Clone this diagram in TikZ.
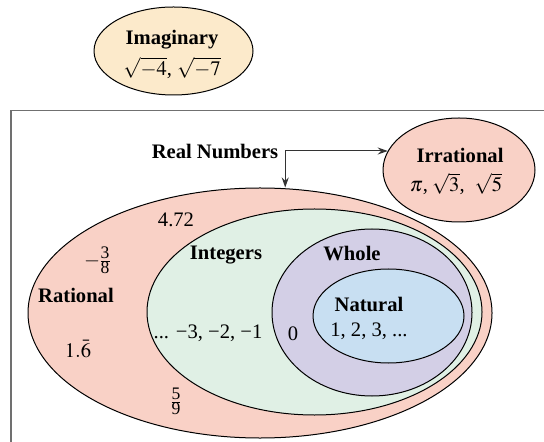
\documentclass[tikz,border=0pt]{standalone}
\usepackage{amsmath}
\usepackage{mathptmx}
\usepackage{fontspec}
\setmainfont{Liberation Serif}
\usetikzlibrary{arrows.meta, positioning, shapes.geometric}

\definecolor{rosa}{RGB}{249,209,198}
\definecolor{verde}{RGB}{224,240,229}
\definecolor{lilla}{RGB}{211,207,230}
\definecolor{azzurro}{RGB}{200,223,242}
\definecolor{giallo}{RGB}{252,234,203}
\definecolor{cornice}{RGB}{112,112,112}

% frazione con cifre piene e barra sottile, come nel disegno
\newcommand{\frazione}[2]{\genfrac{}{}{0.2pt}{1}{\mbox{\fontsize{8.8}{10}\selectfont #1}}{\mbox{\fontsize{8.8}{10}\selectfont #2}}}

\begin{document}
\begin{tikzpicture}[x=0.5pt, y=-0.5pt,
    insieme/.style={ellipse, draw=black, line width=0.5pt, inner sep=0pt},
    titolo/.style={font=\fontsize{10.3}{12}\selectfont\bfseries, inner sep=1pt},
    valori/.style={font=\fontsize{10.3}{12}\selectfont, inner sep=1pt},
    freccia/.style={-{Stealth[length=5pt, width=3.5pt]}, line width=0.5pt, draw=black!80}]

        \useasboundingbox (0,0) rectangle (544,442);

        % ==========================================
        % INSIEMI DEI REALI: ellissi annidate
        % ==========================================

        \node[insieme, fill=rosa, minimum width=232pt, minimum height=125pt] (rational) at (260,313) {};
        \node[insieme, fill=verde, minimum width=167.5pt, minimum height=103pt] (integers) at (314.5,312) {};
        \node[insieme, fill=lilla, minimum width=100pt, minimum height=83.5pt] (whole) at (372,312.5) {};
        \node[insieme, fill=azzurro, minimum width=75.5pt, minimum height=47pt] (natural) at (388.5,316) {};

        % Irrazionali e immaginari
        \node[insieme, fill=rosa, minimum width=76pt, minimum height=52pt] (irrational) at (459,170) {};
        \node[insieme, fill=giallo, minimum width=79.5pt, minimum height=44pt] (imaginary) at (173.5,51) {};

        % Cornice dei reali (tagliata dal bordo)
        \draw[cornice, line width=0.75pt] (11,442) -- (11,110.5) -- (544,110.5);

        % ==========================================
        % ETICHETTE
        % ==========================================

        \node[titolo] (imag-lab) at (172,40) {Imaginary};
        \node[valori] (imag-val) at (172,68) {$\sqrt{-4}$, $\sqrt{-7}$};

        \node[titolo] (irr-lab) at (460,155) {Irrational};
        \node[valori] (irr-val) at (456,184) {$\pi$,\hspace{2pt}$\sqrt{3}$,\hspace{5pt}$\sqrt{5}$};

        \node[titolo] (rat-lab) at (76,295) {Rational};
        \node[valori] (rat-a) at (176,220) {4.72};
        \node[valori] (rat-b) at (98,260) {$-\mkern-1.5mu\frazione{3}{8}$};
        \node[valori] (rat-c) at (78,349) {$1.\bar{6}$};
        \node[valori] (rat-d) at (176,401) {$\frazione{5}{9}$};

        \node[titolo] (int-lab) at (226,255) {Integers};
        \node[valori] (int-val) at (208,333) {... −3, −2, −1};

        \node[titolo] (whole-lab) at (352,254) {Whole};
        \node[valori] (whole-val) at (293,334) {0};

        \node[titolo] (nat-lab) at (369,304) {Natural};
        \node[valori] (nat-val) at (369,331) {1, 2, 3, ...};

        % ==========================================
        % REAL NUMBERS: frecce verso i due insiemi
        % ==========================================

        \node[titolo, inner sep=3.3pt] (realnum) at (215,151) {Real Numbers};
        \coordinate (split) at (realnum.east);
        \draw[freccia] (split) -- (split -| irrational.165);
        \draw[freccia] (split) -- (split |- rational.north);

    \end{tikzpicture}
\end{document}
